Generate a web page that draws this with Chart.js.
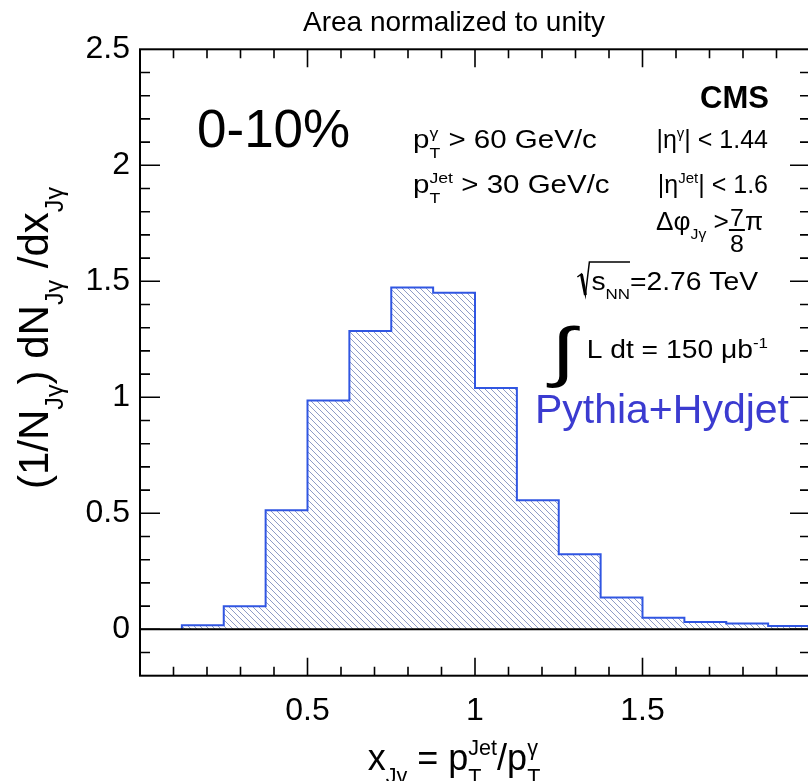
<!DOCTYPE html>
<html>
<head>
<meta charset="utf-8">
<script src="https://cdn.jsdelivr.net/npm/chart.js@4.4.0/dist/chart.umd.min.js"></script>
<style>
  html, body { margin: 0; padding: 0; background: #fff; overflow: hidden; }
  #chart { position: absolute; left: 0; top: 0; }
</style>
</head>
<body>
<canvas id="chart" width="812" height="781"></canvas>
<script>
/* =========================
   DATA
========================= */
const binLow = [0.125, 0.25, 0.375, 0.5, 0.625, 0.75, 0.875, 1.0, 1.125, 1.25, 1.375, 1.5, 1.625, 1.75, 1.875];
const binWidth = 0.125;
const values = [0.017, 0.099, 0.513, 0.986, 1.286, 1.473, 1.451, 1.040, 0.556, 0.323, 0.137, 0.050, 0.031, 0.025, 0.014];
const xTicks = [0.5, 1, 1.5];
const yTicks = [0, 0.5, 1, 1.5, 2, 2.5];

const FONT = '"Liberation Sans", Arial, Helvetica, sans-serif';
const BLUE = "#3056e2";

/* =========================
   HATCH PATTERN
========================= */
function makeHatch() {
    const s = 6;
    const c = document.createElement("canvas");
    c.width = s; c.height = s;
    const g = c.getContext("2d");
    g.strokeStyle = "#8f9cc6";
    g.lineWidth = 1;
    g.beginPath();
    g.moveTo(-1, -1); g.lineTo(s + 1, s + 1);
    g.moveTo(-1, s - 1); g.lineTo(1, s + 1);
    g.moveTo(s - 1, -1); g.lineTo(s + 1, 1);
    g.stroke();
    return document.getElementById("chart").getContext("2d").createPattern(c, "repeat");
}

/* =========================
   RICH TEXT (sub / sup)
========================= */
function partWidth(ctx, p, size) {
    const kind = p[p.length - 1];
    if (kind === "n") { ctx.font = size + "px " + FONT; return ctx.measureText(p[0]).width; }
    if (kind === "sub" || kind === "sup") { ctx.font = (size * 0.6) + "px " + FONT; return ctx.measureText(p[0]).width; }
    if (kind === "ss") {
        ctx.font = (size * 0.6) + "px " + FONT;
        return Math.max(ctx.measureText(p[0]).width, ctx.measureText(p[1]).width);
    }
    if (kind === "frac") {
        ctx.font = (size * 0.95) + "px " + FONT;
        return Math.max(ctx.measureText(p[0]).width, ctx.measureText(p[1]).width) + 2;
    }
    return 0;
}

function drawRich(ctx, x, y, parts, size, align, color, sx) {
    sx = sx || 1;
    let total = 0;
    parts.forEach(p => total += partWidth(ctx, p, size));
    let cx = 0;
    if (align === "center") cx = -total / 2;
    if (align === "right") cx = -total;
    const left = x + cx * sx;
    ctx.save();
    ctx.translate(x, y);
    ctx.scale(sx, 1);
    ctx.fillStyle = color || "#000";
    ctx.strokeStyle = color || "#000";
    ctx.textAlign = "left";
    ctx.textBaseline = "alphabetic";
    parts.forEach(p => {
        const kind = p[p.length - 1];
        const w = partWidth(ctx, p, size);
        if (kind === "n") {
            ctx.font = size + "px " + FONT;
            ctx.fillText(p[0], cx, 0);
        } else if (kind === "sub") {
            ctx.font = (size * 0.6) + "px " + FONT;
            ctx.fillText(p[0], cx, size * 0.35);
        } else if (kind === "sup") {
            ctx.font = (size * 0.6) + "px " + FONT;
            ctx.fillText(p[0], cx, -size * 0.42);
        } else if (kind === "ss") {
            ctx.font = (size * 0.6) + "px " + FONT;
            ctx.fillText(p[0], cx, -size * 0.42);
            ctx.fillText(p[1], cx, size * 0.4);
        } else if (kind === "frac") {
            ctx.font = (size * 0.95) + "px " + FONT;
            const wn = ctx.measureText(p[0]).width;
            const wd = ctx.measureText(p[1]).width;
            ctx.fillText(p[0], cx + (w - wn) / 2, -4);
            ctx.fillText(p[1], cx + (w - wd) / 2, 22);
            ctx.lineWidth = 2;
            ctx.beginPath();
            ctx.moveTo(cx, 0); ctx.lineTo(cx + w, 0);
            ctx.stroke();
        }
        cx += w;
    });
    ctx.restore();
    return { left: left, right: left + total * sx };
}

/* =========================
   FRAME, TICKS, LABELS
========================= */
const framePlugin = {
    id: "frame",
    afterDatasetsDraw(chart) {
        const ctx = chart.ctx;
        const a = chart.chartArea;
        const xs = chart.scales.x;
        const ys = chart.scales.y;
        ctx.save();
        ctx.strokeStyle = "#000";

        // zero line
        ctx.lineWidth = 2;
        ctx.beginPath();
        ctx.moveTo(a.left, ys.getPixelForValue(0));
        ctx.lineTo(a.right, ys.getPixelForValue(0));
        ctx.stroke();

        // frame
        ctx.strokeRect(a.left, a.top, a.right - a.left, a.bottom - a.top);

        // ticks
        ctx.lineWidth = 1.6;
        ctx.beginPath();
        for (let i = 1; i < 20; i++) {
            const px = xs.getPixelForValue(i / 10);
            const len = (i % 5 === 0) ? 18 : 9;
            ctx.moveTo(px, a.bottom); ctx.lineTo(px, a.bottom - len);
            ctx.moveTo(px, a.top); ctx.lineTo(px, a.top + len);
        }
        for (let i = -1; i < 25; i++) {
            const py = ys.getPixelForValue(i / 10);
            const len = (i % 5 === 0) ? 20 : 10;
            ctx.moveTo(a.left, py); ctx.lineTo(a.left + len, py);
            ctx.moveTo(a.right, py); ctx.lineTo(a.right - len, py);
        }
        ctx.stroke();
        ctx.restore();
    },
    afterDraw(chart) {
        const ctx = chart.ctx;
        ctx.save();

        // title
        ctx.font = "28px " + FONT;
        ctx.fillStyle = "#000";
        ctx.textAlign = "center";
        ctx.fillText("Area normalized to unity", 454, 31);

        // centrality
        ctx.font = "53px " + FONT;
        ctx.textAlign = "left";
        ctx.fillText("0-10%", 197, 147);

        // CMS
        ctx.font = "bold 31px " + FONT;
        ctx.textAlign = "right";
        ctx.fillText("CMS", 769, 108);
        ctx.restore();

        const S = 25;
        drawRich(ctx, 413, 148, [["p", "n"], ["γ", "T", "ss"], [" > 60 GeV/c", "n"]], S, "left", null, 1.18);
        drawRich(ctx, 768, 148, [["|η", "n"], ["γ", "sup"], ["| < 1.44", "n"]], S, "right");
        drawRich(ctx, 413, 193, [["p", "n"], ["Jet", "T", "ss"], [" > 30 GeV/c", "n"]], S, "left", null, 1.18);
        drawRich(ctx, 768, 193, [["|η", "n"], ["Jet", "sup"], ["| < 1.6", "n"]], S, "right");
        drawRich(ctx, 763, 230, [["Δφ", "n"], ["Jγ", "sub"], [" >", "n"], ["7", "8", "frac"], ["π", "n"]], S, "right", null, 1.05);

        // sqrt(s_NN)
        const r = drawRich(ctx, 758, 290, [["s", "n"], ["NN", "sub"], ["=2.76 TeV", "n"]], S, "right", null, 1.13);
        ctx.save();
        ctx.font = S + "px " + FONT;
        const sw = ctx.measureText("s").width;
        ctx.font = (S * 0.6) + "px " + FONT;
        const nw = ctx.measureText("NN").width;
        const x0 = r.left - 2;
        ctx.strokeStyle = "#000";
        ctx.lineWidth = 1.5;
        ctx.beginPath();
        ctx.moveTo(x0 - 12, 277);
        ctx.lineTo(x0 - 8, 274);
        ctx.lineTo(x0 - 4, 295);
        ctx.lineTo(x0, 262);
        ctx.lineTo(x0 + 2 + (sw + nw) * 1.13, 262);
        ctx.stroke();
        ctx.lineWidth = 3;
        ctx.beginPath();
        ctx.moveTo(x0 - 8, 274);
        ctx.lineTo(x0 - 4, 295);
        ctx.stroke();
        ctx.restore();

        // integral luminosity
        ctx.save();
        ctx.translate(551, 374);
        ctx.scale(1.35, 1);
        ctx.font = "66px " + FONT;
        ctx.textAlign = "left";
        ctx.fillText("∫", 0, 0);
        ctx.restore();
        drawRich(ctx, 768, 358, [["L dt = 150 μb", "n"], ["-1", "sup"]], S, "right", null, 1.13);

        // generator label
        ctx.save();
        ctx.font = "41px " + FONT;
        ctx.fillStyle = "#3b3bd0";
        ctx.textAlign = "right";
        ctx.fillText("Pythia+Hydjet", 789, 423);
        ctx.restore();

        // axis titles
        drawRich(ctx, 454, 770, [["x", "n"], ["Jγ", "sub"], [" = p", "n"], ["Jet", "T", "ss"], ["/p", "n"], ["γ", "T", "ss"]], 36, "center");
        ctx.save();
        ctx.translate(48, 338);
        ctx.rotate(-Math.PI / 2);
        drawRich(ctx, 0, 0, [["(1/N", "n"], ["Jγ", "sub"], [") dN", "n"], ["Jγ", "sub"], [" /dx", "n"], ["Jγ", "sub"]], 42, "center");
        ctx.restore();
    }
};

/* =========================
   CHART
========================= */
function buildPoints() {
    const pts = [{ x: binLow[0], y: 0 }];
    binLow.forEach((lo, i) => pts.push({ x: lo, y: values[i] }));
    pts.push({ x: binLow[binLow.length - 1] + binWidth, y: values[values.length - 1] });
    return pts;
}

new Chart(document.getElementById("chart"), {
    type: "line",
    data: {
        datasets: [{
            data: buildPoints(),
            stepped: "before",
            borderColor: BLUE,
            borderWidth: 2,
            pointRadius: 0,
            fill: "origin",
            backgroundColor: makeHatch()
        }]
    },
    options: {
        responsive: false,
        animation: false,
        devicePixelRatio: 1,
        layout: { padding: { top: 49.3, right: 2, left: 0, bottom: 0 } },
        plugins: { legend: { display: false }, tooltip: { enabled: false } },
        scales: {
            x: {
                type: "linear",
                min: 0,
                max: 2,
                grid: { display: false, drawTicks: false },
                border: { display: false },
                afterFit: s => { s.height = 105.3; },
                afterBuildTicks: s => { s.ticks = xTicks.map(v => ({ value: v })); },
                ticks: {
                    padding: 16,
                    color: "#000",
                    font: { family: FONT, size: 32 },
                    maxRotation: 0,
                    callback: v => String(v)
                }
            },
            y: {
                type: "linear",
                min: -0.2,
                max: 2.5,
                grid: { display: false, drawTicks: false },
                border: { display: false },
                afterFit: s => { s.width = 140; },
                afterBuildTicks: s => { s.ticks = yTicks.map(v => ({ value: v })); },
                ticks: {
                    padding: 10,
                    color: "#000",
                    font: { family: FONT, size: 32 },
                    callback: v => String(v)
                }
            }
        }
    },
    plugins: [framePlugin]
});
</script>
</body>
</html>
